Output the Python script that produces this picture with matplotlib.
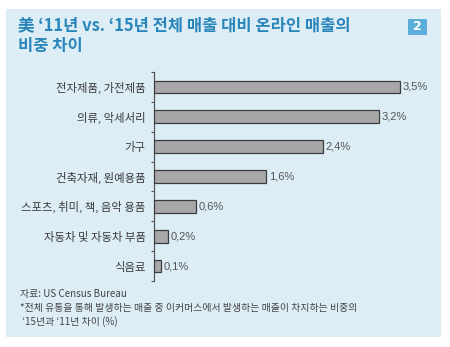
import matplotlib
matplotlib.use('Agg')
import matplotlib.pyplot as plt
import matplotlib.patches

plt.rcParams['font.family'] = ['Noto Sans CJK KR', 'DejaVu Sans']

CATEGORIES = ['전자제품, 가전제품', '의류, 악세서리', '가구', '건축자재, 원예용품',
              '스포츠, 취미, 책, 음악 용품', '자동차 및 자동차 부품', '식음료']
VALUES = [3.5, 3.2, 2.4, 1.6, 0.6, 0.2, 0.1]
TITLE_LINES = ['美 ‘11년 vs. ‘15년 전체 매출 대비 온라인 매출의', '비중 차이']
NOTES = ['자료: US Census Bureau',
         '*전체 유통을 통해 발생하는 매출 중 이커머스에서 발생하는 매출이 차지하는 비중의',
         ' ‘15년과 ‘11년 차이 (%)']

PANEL_COLOR = '#dcedf6'
TITLE_COLOR = '#2a86ba'
TEXT_COLOR = '#3a3a3a'

fig = plt.figure(figsize=(4.5, 3.47), dpi=100)
fig.patch.set_facecolor('white')

# light blue panel behind everything
panel = matplotlib.patches.Rectangle(
    (6/450, 1-337/347), 435/450, 328/347,
    transform=fig.transFigure, facecolor=PANEL_COLOR, edgecolor='none', zorder=-2)
fig.patches.append(panel)

# number badge
badge = matplotlib.patches.Rectangle(
    (408/450, 1-35/347), 19/450, 16/347,
    transform=fig.transFigure, facecolor='#5aaed9', edgecolor='none', zorder=-1)
fig.patches.append(badge)
fig.text(417.5/450, 1-27/347, '2', color='white', fontsize=9, fontweight='bold',
         ha='center', va='center', family=['DejaVu Sans'])

fig.text(18/450, 1-25/347, TITLE_LINES[0], color=TITLE_COLOR, fontsize=11.9,
         fontweight='bold', ha='left', va='center')
fig.text(18/450, 1-46/347, TITLE_LINES[1], color=TITLE_COLOR, fontsize=11.9,
         fontweight='bold', ha='left', va='center')

ax = fig.add_axes([154/450, 1-281/347, 286/450, 209/347])
ax.set_zorder(2)
ax.set_facecolor('none')
positions = list(range(len(CATEGORIES)))
ax.barh(positions, VALUES, height=0.43, color='#a7a7aa',
        edgecolor='#3d3d3d', linewidth=0.9, zorder=3)
for pos, val in zip(positions, VALUES):
    ax.text(val + 0.04, pos, f'{val:.1f}%'.replace('.', ','),
            va='center', ha='left', fontsize=8.0, color='#555555',
            family=['Liberation Sans', 'DejaVu Sans'])

ax.set_ylim(len(CATEGORIES) - 0.5, -0.5)
ax.set_xlim(0, 286/70.3)
ax.set_yticks(positions)
ax.set_yticklabels(CATEGORIES, fontsize=8.2, color=TEXT_COLOR)
ax.set_yticks([p - 0.5 for p in positions] + [len(CATEGORIES) - 0.5], minor=True)
ax.tick_params(axis='y', which='major', length=0, pad=6)
ax.tick_params(axis='y', which='minor', length=2.5, width=0.8, color='#555555')
ax.set_xticks([])
for side in ['top', 'right', 'bottom']:
    ax.spines[side].set_visible(False)
ax.spines['left'].set_color('#555555')
ax.spines['left'].set_linewidth(0.9)

note_y = [294, 308, 322]
for text, y_px in zip(NOTES, note_y):
    fig.text(20/450, 1-y_px/347, text, fontsize=7.1, color='#444444',
             ha='left', va='center')

fig.savefig('out.png', dpi=100, facecolor='white')
